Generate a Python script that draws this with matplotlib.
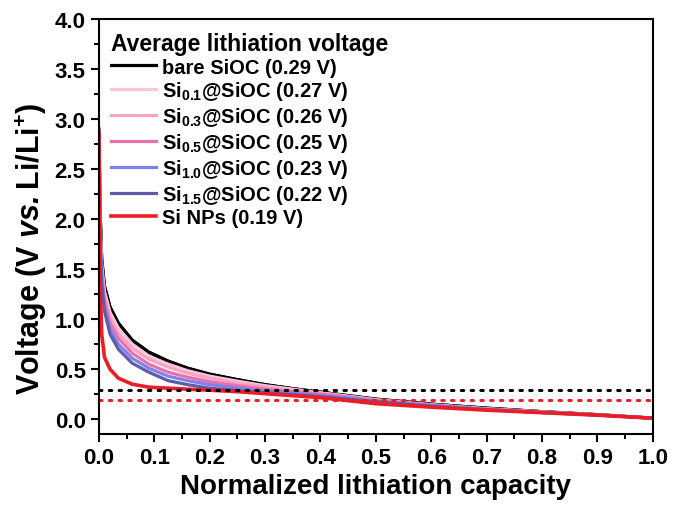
import matplotlib
matplotlib.use("Agg")
import matplotlib.pyplot as plt
from matplotlib.ticker import MultipleLocator

plt.rcParams['font.family'] = ['Liberation Sans', 'DejaVu Sans']
plt.rcParams['font.weight'] = 'bold'
plt.rcParams['mathtext.fontset'] = 'custom'
plt.rcParams['mathtext.rm'] = 'Liberation Sans:bold'
plt.rcParams['mathtext.bf'] = 'Liberation Sans:bold'
plt.rcParams['mathtext.it'] = 'Liberation Sans:italic:bold'
plt.rcParams['mathtext.bfit'] = 'Liberation Sans:italic:bold'

# normalized capacity grid
cap = [0, 0.002, 0.005, 0.01, 0.02, 0.035, 0.06, 0.09, 0.125, 0.16, 0.2,
       0.25, 0.3, 0.35, 0.4, 0.45, 0.5, 0.6, 0.7, 0.8, 0.9, 1.0]

# voltages
v_bare = [2.90, 2.10, 1.60, 1.33, 1.12, 0.96, 0.79, 0.67, 0.58, 0.51, 0.45,
          0.395, 0.345, 0.305, 0.27, 0.235, 0.20, 0.15, 0.11, 0.075, 0.045, 0.01]
v_si01 = [2.90, 2.00, 1.55, 1.28, 1.07, 0.91, 0.75, 0.63, 0.55, 0.485, 0.43,
          0.38, 0.335, 0.30, 0.265, 0.23, 0.195, 0.145, 0.105, 0.073, 0.043, 0.01]
v_si03 = [2.90, 1.95, 1.50, 1.24, 1.02, 0.86, 0.71, 0.60, 0.52, 0.46, 0.41,
          0.36, 0.32, 0.29, 0.26, 0.225, 0.19, 0.14, 0.10, 0.07, 0.043, 0.01]
v_si05 = [2.90, 1.90, 1.45, 1.18, 0.96, 0.81, 0.66, 0.55, 0.47, 0.42, 0.375,
          0.335, 0.30, 0.275, 0.25, 0.22, 0.185, 0.14, 0.10, 0.07, 0.043, 0.01]
v_si10 = [2.88, 1.80, 1.40, 1.13, 0.90, 0.75, 0.61, 0.51, 0.43, 0.385, 0.345,
          0.31, 0.28, 0.26, 0.235, 0.21, 0.18, 0.135, 0.097, 0.068, 0.042, 0.01]
v_si15 = [2.88, 1.75, 1.35, 1.08, 0.85, 0.70, 0.56, 0.47, 0.385, 0.345, 0.31,
          0.285, 0.265, 0.245, 0.225, 0.20, 0.175, 0.13, 0.095, 0.066, 0.041, 0.01]
v_sinp = [2.85, 1.40, 0.85, 0.62, 0.50, 0.41, 0.35, 0.32, 0.31, 0.30, 0.29,
          0.275, 0.255, 0.235, 0.215, 0.185, 0.155, 0.12, 0.09, 0.065, 0.04, 0.01]

labels = ['bare SiOC (0.29 V)',
          r'Si$_{0.1}$@SiOC (0.27 V)',
          r'Si$_{0.3}$@SiOC (0.26 V)',
          r'Si$_{0.5}$@SiOC (0.25 V)',
          r'Si$_{1.0}$@SiOC (0.23 V)',
          r'Si$_{1.5}$@SiOC (0.22 V)',
          'Si NPs (0.19 V)']
colors = ['black', '#f9c6dc', '#f5a3c6', '#eb6fa8', '#7f7fee', '#5c5ca8', '#ee1c24']
widths = [2.3, 2.3, 2.3, 2.3, 2.3, 2.3, 2.6]
series = [v_bare, v_si01, v_si03, v_si05, v_si10, v_si15, v_sinp]

avg_bare = 0.29
avg_sinp = 0.19

fig = plt.figure(figsize=(6.73, 5.06), dpi=100)
ax = fig.add_axes([0.147, 0.140, 0.823, 0.820])

for v, c, w, lab in zip(series, colors, widths, labels):
    ax.plot(cap, v, color=c, linewidth=w, label=lab)
# keep black curve above the pinks where they overlap
ax.plot(cap, v_bare, color='black', linewidth=2.3, zorder=1.9)

ax.axhline(avg_bare, color='black', linestyle=(0, (0.8, 2.4)), linewidth=2.2,
           dash_capstyle='round')
ax.axhline(avg_sinp, color='#ee1c24', linestyle=(0, (0.8, 2.4)), linewidth=2.2,
           dash_capstyle='round')

ax.set_xlim(0, 1.0)
ax.set_ylim(-0.15, 4.0)
ax.xaxis.set_major_locator(MultipleLocator(0.1))
ax.xaxis.set_minor_locator(MultipleLocator(0.05))
ax.yaxis.set_major_locator(MultipleLocator(0.5))
ax.yaxis.set_minor_locator(MultipleLocator(0.25))
ax.tick_params(which='major', direction='out', length=6, width=1.5, labelsize=16)
ax.tick_params(which='minor', direction='out', length=3.5, width=1.5)
for sp in ax.spines.values():
    sp.set_linewidth(1.5)
ax.set_xticklabels([f'{t:.1f}' for t in ax.get_xticks()])

ax.set_xlabel('Normalized lithiation capacity', fontsize=20, fontweight='bold', labelpad=3)
ax.set_ylabel(r'Voltage (V $\mathbfit{vs.}$Li/Li$^{+}$)', fontsize=22,
              fontweight='bold')
ax.yaxis.set_label_coords(-0.09, 0.45)

handles, labs = ax.get_legend_handles_labels()
leg = ax.legend(handles, labs, loc='upper left', frameon=False,
                title='Average lithiation voltage', fontsize=14.5,
                title_fontproperties={'weight': 'bold', 'size': 16.5},
                handlelength=2.2, handletextpad=0.3, labelspacing=0.14,
                borderaxespad=0.42, borderpad=0.2)
leg._legend_box.align = 'left'

fig.savefig('out.png', dpi=100)
